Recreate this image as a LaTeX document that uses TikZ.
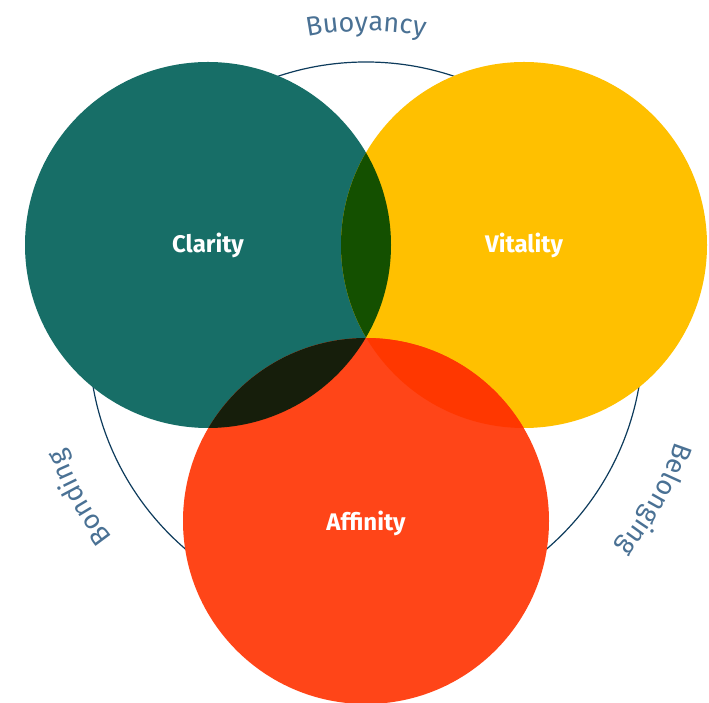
\documentclass[tikz,border=0pt]{standalone}
\usepackage{fontspec}
\usepackage{tikz}
\usetikzlibrary{positioning, decorations.text}
\newfontfamily\setfont{Fira Sans}
\newfontfamily\ringfont{Fira Sans}
\definecolor{clarity}{HTML}{176E67}
\definecolor{vitality}{HTML}{FFC000}
\definecolor{affinity}{HTML}{FF4518}
\definecolor{clarvit}{HTML}{145000}
\definecolor{claraff}{HTML}{161E0B}
\definecolor{vitaff}{HTML}{FF3700}
\definecolor{ringline}{HTML}{0D3B5C}
\definecolor{ringtext}{HTML}{4A7194}

\begin{document}
\begin{tikzpicture}[x=1pt, y=1pt,
		set/.style = {circle, minimum size=366pt, inner sep=0pt},
		setlabel/.style = {text=white, font=\setfont\bfseries\fontsize{24}{26}\selectfont},
		ringlabel/.style = {decorate, decoration={text along path, text align=center,
			text color=ringtext, text={|\ringfont\fontsize{27}{28}\selectfont|#1}}}]
		\useasboundingbox (0,0) rectangle (709,703);
		% outer ring behind the three sets
		\coordinate (ring) at (366,364);
		\draw[ringline, line width=1.2pt] (ring) circle[radius=277];
		% the three sets
		\node[set, fill=clarity] (C) at (208,458) {};
		\node[set, fill=vitality] (V) at (524,458) {};
		\node[set, fill=affinity] (A) at (366,182) {};
		% overlaps
		\begin{scope}
			\clip (C.center) circle[radius=183];
			\fill[clarvit] (V.center) circle[radius=183];
			\fill[claraff] (A.center) circle[radius=183];
		\end{scope}
		\begin{scope}
			\clip (V.center) circle[radius=183];
			\fill[vitaff] (A.center) circle[radius=183];
		\end{scope}
		% set names
		\node[setlabel] (Cl) at (C.center) {Clarity};
		\node[setlabel] (Vl) at (V.center) {Vitality};
		\node[setlabel] (Al) at (A) [yshift=-2pt] {Affinity};
		% names round the ring
		\path[ringlabel=Buoyancy] ([shift={(120:308)}]ring) arc[start angle=120, end angle=60, radius=308];
		\path[ringlabel=Bonding] ([shift={(239:322)}]ring) arc[start angle=239, end angle=179, radius=322];
		\path[ringlabel=Belonging] ([shift={(1:326)}]ring) arc[start angle=1, end angle=-59, radius=326];
\end{tikzpicture}
\end{document}
